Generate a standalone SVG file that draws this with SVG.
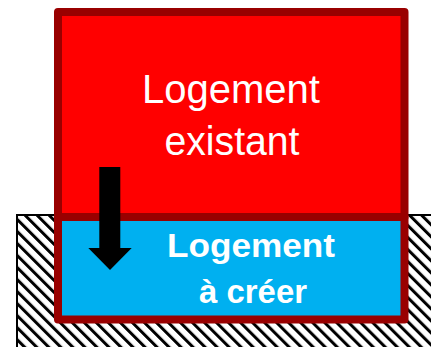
<svg xmlns="http://www.w3.org/2000/svg" width="431" height="347" viewBox="0 0 431 347">
<style>
.box{stroke:#990000;stroke-width:8;stroke-linejoin:round}
.t{fill:#fff;font-family:"Liberation Sans",Arial,sans-serif;text-anchor:middle}
</style>
<defs>
<pattern id="hatch" patternUnits="userSpaceOnUse" width="8.5" height="8.5" patternTransform="rotate(-45)">
<rect x="0" y="0" width="8.5" height="8.5" fill="#fff"/>
<rect x="0" y="0" width="3" height="8.5" fill="#000"/>
</pattern>
</defs>
<g id="ground">
<rect x="16" y="214" width="420" height="140" fill="url(#hatch)"/>
<path d="M17 347 V215 H431" fill="none" stroke="#000" stroke-width="2"/>
</g>
<g id="existant">
<rect class="box" x="58" y="12" width="346.5" height="205" fill="#ff0000"/>
<text class="t" x="231" y="103" font-size="40" textLength="178" lengthAdjust="spacingAndGlyphs">Logement</text>
<text class="t" x="232" y="155" font-size="40" textLength="135" lengthAdjust="spacingAndGlyphs">existant</text>
</g>
<g id="creer">
<rect class="box" x="58" y="217" width="346.5" height="102.5" fill="#00b0f0"/>
<text class="t" x="251" y="257" font-size="33" font-weight="bold" textLength="168" lengthAdjust="spacingAndGlyphs">Logement</text>
<text class="t" x="253" y="303" font-size="33" font-weight="bold" textLength="108" lengthAdjust="spacingAndGlyphs">à créer</text>
</g>
<g id="connectors">
<polygon points="99.3,167 120.3,167 120.3,248 131.7,248 110,270 88.3,248 99.3,248" fill="#000"/>
</g>
</svg>
